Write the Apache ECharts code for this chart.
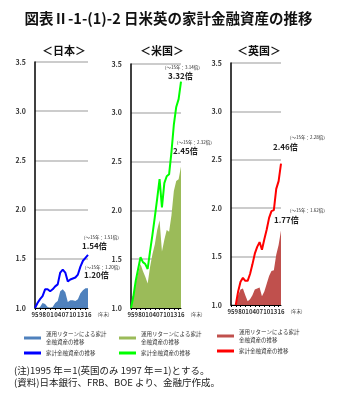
<!DOCTYPE html>
<html>
<head>
<meta charset="utf-8">
<script src="https://cdn.jsdelivr.net/npm/echarts@6/dist/echarts.min.js"></script>
<style>
  html, body { margin: 0; padding: 0; background: #fff; }
  #chart { width: 337px; height: 398px; }
</style>
</head>
<body>
<div id="chart"></div>
<script>
// 年末（1995〜2016）
const years = ["95","96","97","98","99","00","01","02","03","04","05","06","07","08","09","10","11","12","13","14","15","16"];

// 日本（1995年=1）
const jpReturn = [1.00,0.99,1.01,1.05,1.04,1.01,1.00,1.01,1.05,1.07,1.17,1.19,1.16,1.06,1.08,1.08,1.07,1.09,1.15,1.18,1.20,1.20];
const jpTotal  = [1.00,1.05,1.09,1.12,1.19,1.19,1.17,1.19,1.22,1.24,1.36,1.39,1.36,1.27,1.29,1.30,1.31,1.34,1.42,1.48,1.51,1.54];

// 米国（1995年=1）
const usReturn = [1.00,1.12,1.26,1.36,1.45,1.38,1.32,1.25,1.42,1.55,1.65,1.80,1.90,1.58,1.70,1.80,1.78,1.95,2.20,2.30,2.32,2.45];
const usTotal  = [1.00,1.12,1.28,1.40,1.52,1.47,1.45,1.40,1.58,1.75,1.93,2.12,2.32,2.03,2.28,2.35,2.37,2.60,2.88,3.06,3.14,3.32];

// 英国（1997年=1）
const ukReturn = [null,null,1.00,1.10,1.16,1.17,1.10,1.04,1.06,1.10,1.16,1.17,1.18,1.09,1.14,1.22,1.30,1.35,1.36,1.52,1.62,1.77];
const ukTotal  = [null,null,1.00,1.14,1.24,1.28,1.25,1.25,1.32,1.42,1.53,1.60,1.65,1.57,1.68,1.78,1.90,1.97,1.98,2.20,2.28,2.46];

const FONT = "Noto Sans CJK JP";
const nameReturn = "運用リターンによる家計\n金融資産の推移";
const nameTotal = "家計金融資産の推移";

// パネル配置
const panels = [
  { left: 35,  top: 62, width: 53, height: 246, ret: jpReturn, tot: jpTotal, area: "#4f81bd", line: "#0000ff", suffix: "" },
  { left: 131, top: 64, width: 50, height: 244, ret: usReturn, tot: usTotal, area: "#9bbb59", line: "#00ff00", suffix: " " },
  { left: 231, top: 63, width: 50, height: 242, ret: ukReturn, tot: ukTotal, area: "#c0504d", line: "#ff0000", suffix: "  " },
];

const grid = [], xAxis = [], yAxis = [], series = [], legend = [];
const legendPos = [[19, 325], [114, 325], [212, 323]];

panels.forEach((p, i) => {
  grid.push({ left: p.left, top: p.top, width: p.width, height: p.height });
  xAxis.push({
    type: "category", gridIndex: i, data: years, boundaryGap: false,
    axisLine: { lineStyle: { color: "#000", width: 1 } },
    axisTick: { show: true, interval: 1, length: 2, lineStyle: { color: "#000" } },
    axisLabel: { interval: 2, fontSize: 6, fontWeight: "bold", color: "#333", margin: 4, fontFamily: FONT },
    name: "(年末)", nameLocation: "end", nameGap: 2,
    nameTextStyle: { fontSize: 4.5, color: "#333", fontFamily: FONT, verticalAlign: "top", padding: [4, 0, 0, 0] },
  });
  yAxis.push({
    type: "value", gridIndex: i, min: 1.0, max: 3.5, interval: 0.5,
    axisLine: { show: true, lineStyle: { color: "#000", width: 1.5 } },
    axisTick: { show: false },
    axisLabel: { fontSize: 7, fontWeight: "bold", color: "#333", margin: 9, fontFamily: FONT,
      formatter: v => v.toFixed(1) },
    splitLine: { lineStyle: { color: "#cccccc", width: 1.8 } },
  });
  series.push({
    name: nameReturn + p.suffix, type: "line", xAxisIndex: i, yAxisIndex: i, data: p.ret,
    symbol: "none", lineStyle: { width: 0 }, itemStyle: { color: p.area },
    areaStyle: { color: p.area, opacity: 1, origin: "start" }, z: 2,
  });
  series.push({
    name: nameTotal + p.suffix, type: "line", xAxisIndex: i, yAxisIndex: i, data: p.tot,
    symbol: "none", lineStyle: { width: 2, color: p.line }, itemStyle: { color: p.line }, z: 3,
  });
  legend.push({
    left: legendPos[i][0], top: legendPos[i][1], orient: "vertical",
    itemWidth: 17, itemHeight: 3, itemGap: 3, selectedMode: false,
    textStyle: { fontSize: 5.5, color: "#333", fontFamily: FONT, lineHeight: 8 },
    data: [
      { name: nameReturn + p.suffix, icon: "rect" },
      { name: nameTotal + p.suffix, icon: "rect" },
    ],
  });
});

// 注記テキスト
const notes = [
  ["（〜15年：1.51倍）", 81, 235, 4.5, "normal"],
  ["1.54倍", 82, 242, 8, "bold"],
  ["（〜15年：1.20倍）", 82, 265, 4.5, "normal"],
  ["1.20倍", 84, 271, 8, "bold"],
  ["（〜15年：3.14倍）", 162, 65, 4.5, "normal"],
  ["3.32倍", 168, 72, 8, "bold"],
  ["（〜15年：2.32倍）", 174, 140, 4.5, "normal"],
  ["2.45倍", 173, 147, 8, "bold"],
  ["（〜15年：2.28倍）", 287, 135, 4.5, "normal"],
  ["2.46倍", 273, 143, 8, "bold"],
  ["（〜15年：1.62倍）", 287, 208, 4.5, "normal"],
  ["1.77倍", 274, 216, 8, "bold"],
];

const graphic = notes.map(n => ({
  type: "text", left: n[1], top: n[2],
  style: { text: n[0], fontSize: n[3], fontWeight: n[4], fill: "#222", fontFamily: FONT },
}));
graphic.push({
  type: "text", left: 14, top: 364,
  style: { text: "(注)1995 年＝1(英国のみ 1997 年＝1)とする。\n(資料)日本銀行、FRB、BOE より、金融庁作成。",
    fontSize: 9.5, lineHeight: 12, fill: "#222", fontFamily: FONT },
});

const chart = echarts.init(document.getElementById("chart"));
chart.setOption({
  animation: false,
  backgroundColor: "#fff",
  title: [
    { text: "図表Ⅱ-1-(1)-2 日米英の家計金融資産の推移", left: "center", top: 6,
      textStyle: { fontSize: 14.5, fontWeight: "bold", color: "#111", fontFamily: FONT } },
    { text: "＜日本＞", left: 37, top: 40, textStyle: { fontSize: 11, fontWeight: "bold", color: "#111", fontFamily: FONT } },
    { text: "＜米国＞", left: 135, top: 40, textStyle: { fontSize: 11, fontWeight: "bold", color: "#111", fontFamily: FONT } },
    { text: "＜英国＞", left: 232, top: 40, textStyle: { fontSize: 11, fontWeight: "bold", color: "#111", fontFamily: FONT } },
  ],
  grid, xAxis, yAxis, series, legend, graphic,
});
</script>
</body>
</html>
